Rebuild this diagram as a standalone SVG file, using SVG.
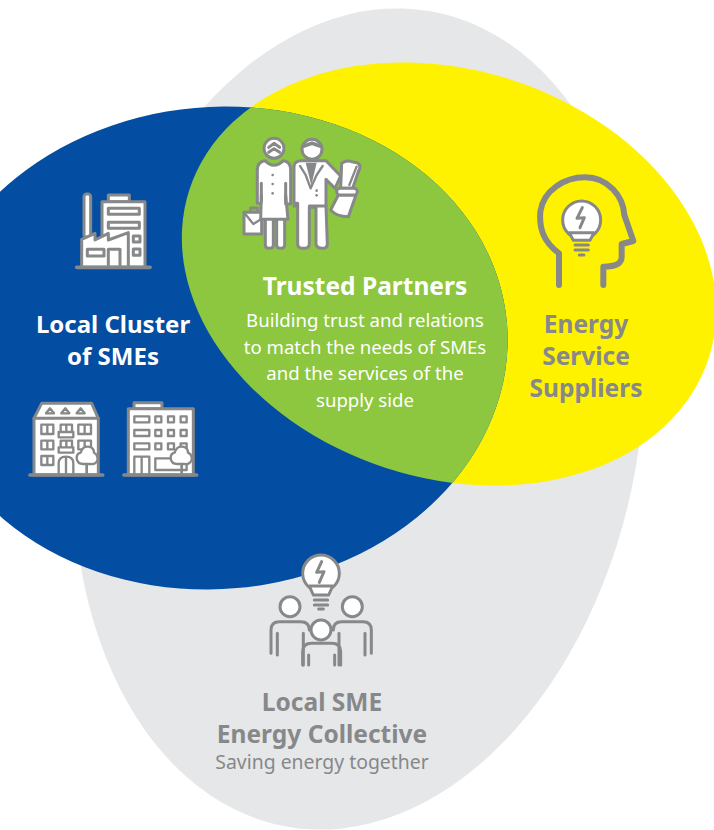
<svg xmlns="http://www.w3.org/2000/svg" width="714" height="830" viewBox="0 0 714 830">
<style>
text{font-family:"Noto Sans","Open Sans","Liberation Sans",sans-serif;text-anchor:middle}
.h{font-size:24.5px;font-weight:700}
.w{fill:#fff}
.g{fill:#87888a}
.b{font-size:18.6px;fill:#fff}
.s{font-size:19.4px}
.i{fill:#fff;stroke:#87888a;stroke-width:9;stroke-linejoin:round;stroke-linecap:round}
.n{fill:none;stroke:#87888a;stroke-width:9;stroke-linejoin:round;stroke-linecap:round}
.i7,.n7{stroke-width:7}
.n8{stroke-width:8}
.n10{stroke-width:11}
.n18{stroke-width:18}
.ng{fill:#87888a}
</style>
<defs>
<clipPath id="cy"><ellipse cx="449" cy="274" rx="273" ry="204" transform="rotate(18 449 274)"/></clipPath>
</defs>
<g id="collective-shape"><ellipse cx="359" cy="419" rx="281" ry="414" transform="rotate(10 359 419)" fill="#e6e7e8"/></g>
<g id="suppliers-shape"><ellipse cx="449" cy="274" rx="273" ry="204" transform="rotate(18 449 274)" fill="#fff200"/></g>
<g id="cluster-shape"><ellipse cx="216" cy="348" rx="292" ry="241" transform="rotate(-5 216 348)" fill="#034ea2"/></g>
<g id="partners-shape" clip-path="url(#cy)"><ellipse cx="216" cy="348" rx="292" ry="241" transform="rotate(-5 216 348)" fill="#8dc63f"/></g>
<g id="connectors"/>

<g id="partners-icon" transform="translate(220 120) scale(.3333)">
<path class="n" d="M92,275 V264 H112 V275"/>
<path class="i" d="M72,277 H125 V342 H72Z"/>
<path class="n n7" d="M74,280 L100,312 L125,296"/>
<path class="i" d="M136,285 V375 Q136,385 148,385 Q160,385 160,375 V300 H170 V375 Q170,385 182,385 Q194,385 194,375 V285Z"/>
<path class="i" d="M135,122 Q112,125 112,150 V250 H124 V225 L122,298 H204 L197,225 V252 H212 V150 Q212,125 190,122 Q162,150 135,122Z"/>
<path class="n" d="M124,190 V240 M197,190 V240"/>
<circle class="i" cx="162" cy="85" r="30"/>
<path class="n" d="M146,82 L162,70 L179,82 M146,97 L162,86 L179,97"/>
<path class="i" d="M222,250 V140 Q222,122 245,122 H318 L362,168 L345,205 L318,178 V258 L322,372 Q322,385 307,385 Q290,385 288,372 V262 H268 V372 Q268,385 250,385 Q233,385 233,372 V250Z"/>
<path class="n" d="M222,258 H233 M318,258 H268"/>
<path class="ng" d="M257,128 H290 L274,196Z"/>
<path class="n n7" d="M240,138 L257,165 L272,205 M308,138 L290,165 L272,205"/>
<circle cx="290" cy="212" r="4" class="ng"/><circle cx="290" cy="226" r="4" class="ng"/>
<circle cx="158" cy="165" r="4" class="ng"/><circle cx="158" cy="192" r="4" class="ng"/><circle cx="158" cy="220" r="4" class="ng"/>
<circle class="i" cx="276" cy="88" r="30"/>
<path class="n n10" d="M252,78 L276,70 L300,78"/>
<path class="i" d="M355,225 L332,270 Q350,290 385,290 L408,225Z"/>
<path class="i" d="M365,130 Q380,120 395,125 L412,128 Q426,138 416,152 L398,205 L362,205Z"/>
<path class="n n7" d="M410,140 L388,195"/>
<rect class="i" x="350" y="205" width="62" height="20" rx="10"/>
</g>

<g id="factory-icon" transform="translate(60 180) scale(.3333)">
<rect class="i" x="145" y="45" width="63" height="20"/>
<rect class="i" x="126" y="65" width="129" height="197"/>
<rect class="i" x="72" y="42" width="20" height="130" rx="8"/>
<path class="i" d="M65,262 V178 L105,160 V180 L145,160 V180 L205,158 V262Z"/>
<rect class="i" x="145" y="85" width="93" height="18"/>
<rect class="i" x="145" y="127" width="93" height="18"/>
<rect class="i" x="220" y="168" width="20" height="18"/>
<rect class="i" x="220" y="207" width="20" height="19"/>
<rect class="i" x="82" y="208" width="50" height="20"/>
<rect class="i" x="145" y="208" width="35" height="54"/>
<path class="n n10" d="M50,262 H270"/>
</g>

<g id="building-a-icon" transform="translate(20 390) scale(.3333)">
<path class="i" d="M42,255 V85 L65,40 H215 L235,85 V255Z"/>
<path class="n" d="M42,85 H235"/>
<path class="n n7" d="M78,70 L90,55 L102,70Z M124,70 L136,55 L148,70Z M170,70 L182,55 L194,70Z"/>
<path class="n n7" d="M64,104 H100 V132 H64Z M82,104 V132 M64,152 H100 V178 H64Z M82,152 V178 M64,198 H100 V225 H64Z M82,198 V225 M175,104 H213 V132 H175Z M194,104 V132 M175,152 H213 V178 H175Z M194,152 V178 M122,104 H156 V126 H122Z M139,104 V126 M116,126 H160 V142 H116Z M122,152 H156 V172 H122Z M139,152 V172 M116,172 H160 V188 H116Z M116,255 V220 Q116,200 138,200 Q160,200 160,220 V255 M138,200 V255"/>
<path class="n n8" d="M200,255 V220"/>
<path class="i i7" d="M170,205 Q170,190 182,188 Q188,168 205,170 Q222,172 222,188 Q235,195 232,210 Q228,225 210,222 H190 Q172,222 170,205Z"/>
<path class="n n10" d="M30,255 H248"/>
</g>

<g id="building-b-icon" transform="translate(20 390) scale(.3333)">
<rect class="i" x="342" y="38" width="84" height="18"/>
<rect class="i" x="325" y="56" width="195" height="199"/>
<path class="n n7" d="M343,79 H388 V97 H343Z M343,120 H388 V138 H343Z M343,160 H388 V178 H343Z M406,79 H424 V97 H406Z M444,79 H462 V97 H444Z M482,79 H500 V97 H482Z M406,120 H424 V138 H406Z M444,120 H462 V138 H444Z M482,120 H500 V138 H482Z M406,160 H424 V178 H406Z M444,160 H462 V178 H444Z M482,160 H500 V178 H482Z M343,255 V200 H388 V255 M365,200 V255 M406,205 H500 V240 H406Z"/>
<path class="n n8" d="M485,255 V220"/>
<path class="i i7" d="M452,205 Q452,190 464,188 Q470,168 487,170 Q504,172 504,188 Q518,195 515,210 Q510,225 492,222 H472 Q454,222 452,205Z"/>
<path class="n n10" d="M312,255 H530"/>
</g>

<g id="head-icon" transform="translate(525 165) scale(.3333)">
<path class="n n18" d="M102,360 V265 C55,230 42,190 46,140 C55,75 120,37 180,37 C250,37 295,95 298,150 L325,228 L290,237 V275 C290,298 270,305 235,305 V360"/>
<circle class="i" cx="170" cy="165" r="57"/>
<path class="i" d="M133,203 H207 L195,226 H145Z"/>
<path class="n" d="M150,240 H190 M150,255 H190 M163,270 H177"/>
<path class="n" d="M172,128 L156,160 L178,158 L165,188"/>
</g>

<g id="collective-icon" transform="translate(260 545) scale(.3333)">
<circle class="i" cx="183" cy="85" r="55"/>
<path class="i" d="M148,123 H218 L206,150 H160Z"/>
<path class="n" d="M163,165 H203 M163,180 H203 M176,192 H190"/>
<path class="n" d="M185,50 L170,82 L192,80 L178,112"/>
<path class="n" d="M33,325 V255 Q33,230 58,230 H122 Q148,230 148,255 M52,265 V330 M130,265 V360 M334,325 V255 Q334,230 309,230 H245 Q220,230 220,255 M315,265 V330 M237,265 V360"/>
<path class="n" d="M128,360 V320 Q128,295 155,295 H215 Q242,295 242,320 V360 M146,330 V360 M224,330 V360"/>
<circle class="i" cx="90" cy="185" r="30"/>
<circle class="i" cx="277" cy="185" r="30"/>
<circle class="i" cx="183" cy="255" r="30"/>
</g>

<g id="partners-label">
<text class="h w" x="365" y="295">Trusted Partners</text>
<text class="b" x="365" y="327">Building trust and relations</text>
<text class="b" x="365" y="354">to match the needs of SMEs</text>
<text class="b" x="365" y="380">and the services of the</text>
<text class="b" x="365" y="407">supply side</text>
</g>
<g id="cluster-label">
<text class="h w" x="113" y="333" style="font-size:24px">Local Cluster</text>
<text class="h w" x="113" y="365" style="font-size:24px">of SMEs</text>
</g>
<g id="suppliers-label">
<text class="h g" x="586" y="333">Energy</text>
<text class="h g" x="586" y="365">Service</text>
<text class="h g" x="586" y="397">Suppliers</text>
</g>
<g id="collective-label">
<text class="h g" x="322" y="711">Local SME</text>
<text class="h g" x="322" y="743">Energy Collective</text>
<text class="g s" x="322" y="769">Saving energy together</text>
</g>
</svg>
